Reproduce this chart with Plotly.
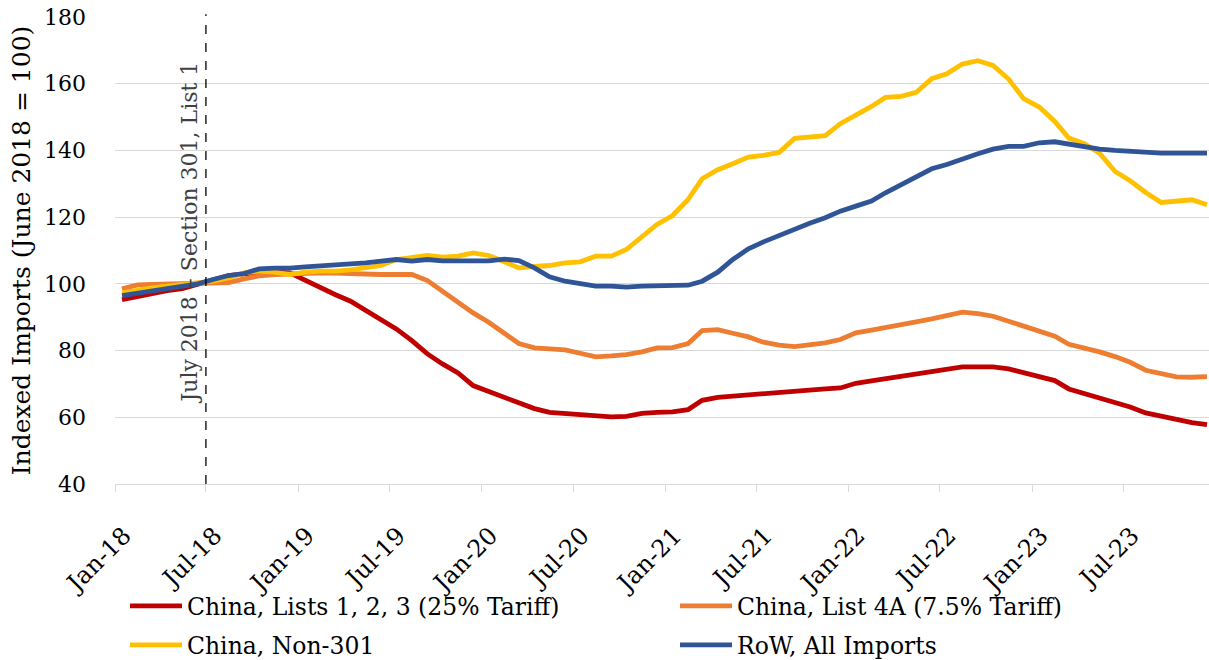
import pandas as pd
import plotly.graph_objects as go

# Monthly data, Jan-2018 .. Dec-2023 (indexed, June 2018 = 100)
months = pd.date_range("2018-01-01", periods=72, freq="MS") + pd.Timedelta(days=14)

china_lists_123 = [95.3, 96.3, 97.2, 98.0, 98.6, 100.0, 101.2, 102.5, 103.0, 103.3, 103.5, 103.3,
                   101.0, 98.8, 96.8, 94.8, 92.0, 89.5, 86.5, 83.0, 79.0, 76.0, 73.3, 69.5,
                   67.8, 66.2, 64.4, 62.6, 61.5, 61.1, 60.8, 60.4, 60.1, 60.3, 61.2, 61.5,
                   61.6, 62.3, 65.1, 66.0, 66.4, 66.8, 67.1, 67.4, 67.8, 68.2, 68.5, 68.8,
                   70.2, 70.9, 71.6, 72.4, 73.1, 73.8, 74.5, 75.1, 75.1, 75.1, 74.5, 73.3,
                   72.2, 71.0, 68.5, 67.2, 65.8, 64.3, 63.1, 61.3, 60.3, 59.1, 58.4, 57.8]

china_list_4a = [98.5, 99.7, 99.8, 99.9, 100.0, 100.0, 100.2, 100.4, 101.5, 102.4, 102.8, 103.0,
                 103.2, 103.3, 103.2, 103.0, 102.8, 102.8, 102.8, 102.8, 101.0, 97.8, 94.8, 91.3,
                 88.5, 85.2, 82.1, 80.8, 80.5, 80.2, 79.2, 78.1, 78.4, 78.8, 79.6, 80.8,
                 80.9, 82.1, 86.0, 86.3, 85.2, 84.1, 82.5, 81.6, 81.2, 81.6, 82.3, 83.3,
                 85.3, 86.1, 87.0, 87.8, 88.6, 89.5, 90.4, 91.5, 91.1, 90.3, 88.8, 87.3,
                 85.6, 84.3, 81.9, 80.8, 79.6, 78.2, 76.5, 74.1, 72.9, 72.1, 72.0, 72.2]

china_non_301 = [97.3, 98.2, 98.8, 99.3, 99.8, 100.0, 100.8, 101.8, 103.3, 103.8, 103.5, 102.8,
                 103.5, 103.8, 103.8, 104.2, 104.8, 105.5, 107.3, 107.8, 108.5, 108.0, 108.3, 109.3,
                 108.5, 106.6, 104.8, 105.2, 105.5, 106.3, 106.6, 108.3, 108.3, 110.3, 114.1, 117.8,
                 120.5, 125.3, 131.5, 134.2, 136.0, 138.0, 138.5, 139.4, 143.6, 144.0, 144.4, 148.0,
                 150.4, 153.2, 155.9, 156.2, 157.4, 161.5, 163.0, 165.9, 166.9, 165.5, 161.4, 155.5,
                 153.0, 148.7, 143.7, 142.0, 139.2, 133.7, 130.9, 127.4, 124.4, 124.8, 125.2, 123.7]

row_all = [96.5, 97.2, 97.9, 98.6, 99.2, 100.0, 101.3, 102.5, 103.1, 104.5, 104.7, 104.7,
           105.1, 105.4, 105.6, 105.8, 106.3, 106.8, 107.3, 106.8, 107.3, 106.9, 106.8, 106.8,
           106.9, 107.4, 107.0, 104.8, 102.1, 100.8, 100.1, 99.3, 99.3, 99.0, 99.3, 99.3,
           99.6, 99.6, 100.8, 103.5, 107.3, 110.5, 112.6, 114.6, 116.3, 118.2, 119.8, 121.8,
           123.3, 124.8, 127.3, 129.8, 132.3, 134.5, 135.8, 137.5, 139.0, 140.4, 141.2, 141.2,
           142.3, 142.6, 141.9, 141.2, 140.4, 140.0, 139.7, 139.7, 139.2, 139.2, 139.2, 139.2]

series_names = ["China, Lists 1, 2, 3 (25% Tariff)", "China, List 4A (7.5% Tariff)",
                "China, Non-301", "RoW, All Imports"]
series_colors = ["#C00000", "#ED7D31", "#FFC000", "#2F5597"]
series_legend = ["legend", "legend2", "legend3", "legend4"]

tick_dates = pd.date_range("2018-01-01", "2023-07-01", freq="6MS")
tick_labels = [d.strftime("%b-%y") for d in tick_dates]

FONT = "DejaVu Serif"
W, H = 1209, 660

fig = go.Figure()
for name, vals, color, lg in zip(series_names,
                                 [china_lists_123, china_list_4a, china_non_301, row_all],
                                 series_colors, series_legend):
    fig.add_trace(go.Scatter(x=months, y=vals, mode="lines", name=name,
                             line=dict(color=color, width=4.8), legend=lg))

fig.add_shape(type="line", xref="x", yref="paper", x0="2018-07-01", x1="2018-07-01",
              y0=0, y1=1.006, line=dict(color="black", width=1.3, dash="dash"))
fig.add_annotation(x="2018-07-01", y=115.5, xref="x", yref="y",
                   text="July 2018 – Section 301, List 1", textangle=-90,
                   showarrow=False, xanchor="right", yanchor="middle", xshift=-2,
                   font=dict(family=FONT, size=22, color="#404040"))


def legend_at(px, py):
    return dict(orientation="h", xref="container", yref="container",
                x=px / W, y=1 - py / H, xanchor="left", yanchor="middle",
                itemwidth=52, font=dict(family=FONT, size=23.5, color="black"),
                bgcolor="rgba(0,0,0,0)")


fig.update_layout(
    width=W, height=H,
    margin=dict(l=115, r=0, t=17, b=176),
    plot_bgcolor="white", paper_bgcolor="white",
    font=dict(family=FONT, size=20, color="black"),
    showlegend=True,
    legend=legend_at(125, 606),
    legend2=legend_at(675, 606),
    legend3=legend_at(125, 645),
    legend4=legend_at(675, 645),
)

fig.update_xaxes(type="date", range=["2018-01-01", "2023-12-19"], automargin=False,
                 tickvals=tick_dates, ticktext=tick_labels, tickangle=-45,
                 ticklabelstandoff=20, ticklabelshift=9,
                 showgrid=False, showline=True, linecolor="#d9d9d9", linewidth=1,
                 ticks="outside", ticklen=7, tickcolor="#d9d9d9",
                 tickfont=dict(family=FONT, size=24, color="black"), zeroline=False)
fig.update_yaxes(range=[40, 180], tick0=40, dtick=20, showgrid=True, automargin=False,
                 gridcolor="#d9d9d9", gridwidth=1, zeroline=False, showline=False,
                 ticklabelstandoff=28,
                 tickfont=dict(family=FONT, size=22, color="black"),
                 title=dict(text="Indexed Imports (June 2018 = 100)",
                            font=dict(family=FONT, size=25, color="black"), standoff=6))

fig.write_html("out.html", config={"displayModeBar": False},
               post_script="document.body.style.margin='0px';")
